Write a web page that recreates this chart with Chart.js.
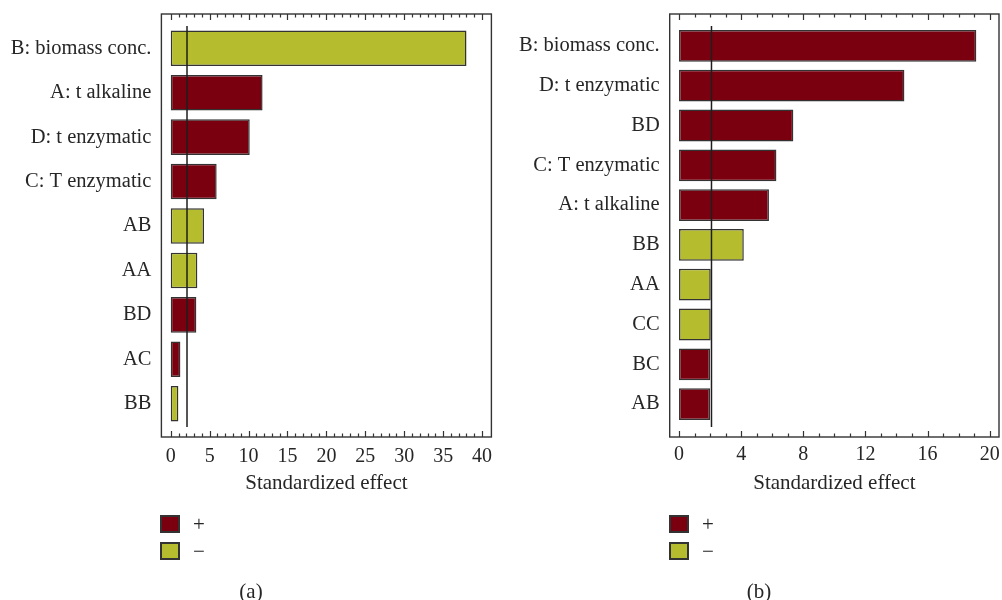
<!DOCTYPE html>
<html>
<head>
<meta charset="utf-8">
<script src="https://cdn.jsdelivr.net/npm/chart.js@4/dist/chart.umd.min.js"></script>
<style>
  html, body { margin: 0; padding: 0; background: #fff; }
  body { width: 1002px; height: 600px; position: relative; overflow: hidden;
         font-family: "Liberation Serif", "DejaVu Serif", serif; color: #262626;
         -webkit-font-smoothing: antialiased; }
  canvas { position: absolute; top: 0; }
  #cA { left: 0; }
  #cB { left: 500px; }
  .key { position: absolute; width: 16px; height: 14px; border: 2px solid #333; }
  .keytxt, .cap { position: absolute; font-size: 21px; line-height: 21px; color: #262626;
                  transform: translate(-50%, -50%); will-change: transform; }
</style>
</head>
<body>
<canvas id="cA" width="500" height="500"></canvas>
<canvas id="cB" width="502" height="500"></canvas>

<div class="key" style="left:160px; top:515px; background:#7a0010"></div>
<div class="keytxt" style="left:199px; top:524px">+</div>
<div class="key" style="left:160px; top:542px; background:#b5bd2e"></div>
<div class="keytxt" style="left:199px; top:551px">−</div>
<div class="cap" style="left:251px; top:591px">(a)</div>

<div class="key" style="left:669px; top:515px; background:#7a0010"></div>
<div class="keytxt" style="left:708px; top:524px">+</div>
<div class="key" style="left:669px; top:542px; background:#b5bd2e"></div>
<div class="keytxt" style="left:708px; top:551px">−</div>
<div class="cap" style="left:759px; top:591px">(b)</div>

<script>
// Pareto chart (a): standardized effects, ordered by magnitude
const termsA   = ['B: biomass conc.', 'A: t alkaline', 'D: t enzymatic', 'C: T enzymatic', 'AB', 'AA', 'BD', 'AC', 'BB'];
const effectsA = [38.0, 11.8, 10.15, 5.9, 4.28, 3.42, 3.29, 1.24, 0.98];
const signsA   = ['-', '+', '+', '+', '-', '-', '+', '+', '-'];
const ticksA   = [0, 5, 10, 15, 20, 25, 30, 35, 40];
const critA    = 2.09;

// Pareto chart (b)
const termsB   = ['B: biomass conc.', 'D: t enzymatic', 'BD', 'C: T enzymatic', 'A: t alkaline', 'BB', 'AA', 'CC', 'BC', 'AB'];
const effectsB = [19.14, 14.51, 7.36, 6.27, 5.79, 4.17, 2.04, 2.04, 2.0, 2.0];
const signsB   = ['+', '+', '+', '+', '+', '-', '-', '-', '+', '+'];
const ticksB   = [0, 4, 8, 12, 16, 20];
const critB    = 2.09;

const POS = '#7a0010';
const NEG = '#b5bd2e';
const INK = '#262626';
const FONT = '"Liberation Serif", "DejaVu Serif", serif';

// Frame with inward tick marks (major + unit minor) and the critical-effect line
const paretoFrame = {
  id: 'paretoFrame',
  afterDatasetsDraw(chart, args, opts) {
    const { ctx, chartArea: a, scales: { x } } = chart;
    const top = a.top - 12, bottom = a.bottom + opts.bottomExtra;
    ctx.save();
    // critical t line
    const xc = x.getPixelForValue(opts.crit);
    ctx.strokeStyle = '#1e1e1e';
    ctx.lineWidth = 1.5;
    ctx.beginPath();
    ctx.moveTo(xc, a.top);
    ctx.lineTo(xc, a.bottom + opts.lineExtra);
    ctx.stroke();
    // frame
    ctx.strokeStyle = '#333';
    ctx.lineWidth = 1.4;
    ctx.strokeRect(a.left, top, a.right - a.left, bottom - top);
    // ticks
    ctx.lineWidth = 1.2;
    ctx.beginPath();
    for (let v = 0; v <= opts.max; v += 1) {
      const px = Math.round(x.getPixelForValue(v)) + 0.5;
      const len = (v % opts.major === 0) ? 6 : 3.5;
      ctx.moveTo(px, bottom); ctx.lineTo(px, bottom - len);
      ctx.moveTo(px, top);    ctx.lineTo(px, top + len);
    }
    ctx.stroke();
    ctx.restore();
  }
};

function makeChart(id, terms, effects, signs, ticks, crit, xmin, xmax, yWidth, rightPad, plotBottom, canvasH, major, extra) {
  const xHeight = canvasH - plotBottom;
  return new Chart(document.getElementById(id), {
    type: 'bar',
    data: {
      labels: terms,
      datasets: [{
        data: effects,
        backgroundColor: signs.map(s => s === '+' ? POS : NEG),
        borderColor: '#333',
        borderWidth: 1.5,
        borderSkipped: false,
        categoryPercentage: 0.8,
        barPercentage: 1.0
      }]
    },
    options: {
      indexAxis: 'y',
      responsive: false,
      animation: false,
      layout: { autoPadding: false, padding: { top: 26, right: rightPad, left: 0, bottom: 0 } },
      plugins: {
        legend: { display: false },
        tooltip: { enabled: false },
        paretoFrame: { crit, max: ticks[ticks.length - 1], major, bottomExtra: extra, lineExtra: extra - 11 + 1 }
      },
      scales: {
        x: {
          type: 'linear',
          min: xmin, max: xmax,
          grid: { display: false, drawTicks: false },
          border: { display: false },
          afterBuildTicks: s => { s.ticks = ticks.map(v => ({ value: v })); },
          afterFit: s => { s.height = xHeight; s.paddingLeft = 0; s.paddingRight = 0; },
          ticks: { padding: 19, color: INK, font: { family: FONT, size: 20 }, maxRotation: 0 },
          title: { display: true, text: 'Standardized effect', color: INK,
                   font: { family: FONT, size: 21 }, padding: { top: 5 } }
        },
        y: {
          grid: { display: false, drawTicks: false },
          border: { display: false },
          afterFit: s => { s.width = yWidth; s.paddingTop = 0; s.paddingBottom = 0; },
          ticks: { padding: 10, color: INK, font: { family: FONT, size: 20.5 } }
        }
      }
    },
    plugins: [paretoFrame]
  });
}

makeChart('cA', termsA, effectsA, signsA, ticksA, critA, -1.2, 41.2, 161.4, 8.6, 426, 500, 5, 11);
makeChart('cB', termsB, effectsB, signsB, ticksB, critB, -0.6, 20.6, 169.7, 3, 424, 500, 4, 13);
</script>
</body>
</html>
